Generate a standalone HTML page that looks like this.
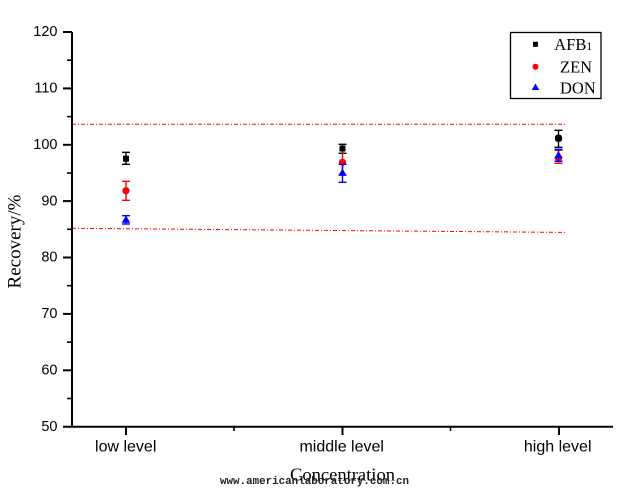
<!DOCTYPE html>
<html>
<head>
<meta charset="utf-8">
<style>
  html, body { margin: 0; padding: 0; background: #fff; }
  svg { display: block; }
</style>
</head>
<body>
<svg width="634" height="495" viewBox="0 0 634 495" xmlns="http://www.w3.org/2000/svg">
  <rect width="634" height="495" fill="#fff"/>

  <!-- reference dashed lines -->
  <line x1="72" y1="124.3" x2="565" y2="124.3" stroke="#f00" stroke-width="1" stroke-dasharray="4 2 1 2"/>
  <line x1="72" y1="228.3" x2="565" y2="232.4" stroke="#f00" stroke-width="1" stroke-dasharray="4 2 1 2"/>

  <!-- Y axis -->
  <line x1="72" y1="32" x2="72" y2="427.7" stroke="#000" stroke-width="2"/>
  <g stroke="#000" stroke-width="2">
    <line x1="63" y1="32" x2="72" y2="32"/>
    <line x1="63" y1="88.4" x2="72" y2="88.4"/>
    <line x1="63" y1="144.8" x2="72" y2="144.8"/>
    <line x1="63" y1="201.1" x2="72" y2="201.1"/>
    <line x1="63" y1="257.5" x2="72" y2="257.5"/>
    <line x1="63" y1="313.9" x2="72" y2="313.9"/>
    <line x1="63" y1="370.3" x2="72" y2="370.3"/>
  </g>
  <g stroke="#000" stroke-width="1.6">
    <line x1="67" y1="60.2" x2="72" y2="60.2"/>
    <line x1="67" y1="116.6" x2="72" y2="116.6"/>
    <line x1="67" y1="173" x2="72" y2="173"/>
    <line x1="67" y1="229.3" x2="72" y2="229.3"/>
    <line x1="67" y1="285.7" x2="72" y2="285.7"/>
    <line x1="67" y1="342.1" x2="72" y2="342.1"/>
    <line x1="67" y1="398.5" x2="72" y2="398.5"/>
  </g>
  <!-- X axis -->
  <line x1="63" y1="426.7" x2="613" y2="426.7" stroke="#000" stroke-width="2"/>
  <g stroke="#000" stroke-width="2">
    <line x1="126" y1="426.7" x2="126" y2="435"/>
    <line x1="342.5" y1="426.7" x2="342.5" y2="435"/>
    <line x1="559" y1="426.7" x2="559" y2="435"/>
  </g>
  <g stroke="#000" stroke-width="1.6">
    <line x1="234" y1="426.7" x2="234" y2="431"/>
    <line x1="450.5" y1="426.7" x2="450.5" y2="431"/>
  </g>

  <!-- Y tick labels -->
  <g font-family="'Liberation Sans', Arial, sans-serif" font-size="14.5" fill="#000" text-anchor="end">
    <text x="57.5" y="36">120</text>
    <text x="57.5" y="92.6">110</text>
    <text x="57.5" y="149">100</text>
    <text x="57.5" y="205.3">90</text>
    <text x="57.5" y="261.7">80</text>
    <text x="57.5" y="318.1">70</text>
    <text x="57.5" y="374.5">60</text>
    <text x="57.5" y="431">50</text>
  </g>

  <!-- X tick labels -->
  <g font-family="'Liberation Sans', Arial, sans-serif" font-size="16" fill="#000" text-anchor="middle">
    <text x="125.7" y="451.7">low level</text>
    <text x="341.7" y="451.7">middle level</text>
    <text x="557.7" y="451.7">high level</text>
  </g>

  <!-- Axis titles -->
  <text x="290" y="480.7" font-family="'Liberation Serif', 'Times New Roman', serif" font-size="18" fill="#000" textLength="105" lengthAdjust="spacingAndGlyphs">Concentration</text>
  <text transform="translate(20.5,241.5) rotate(-90)" text-anchor="middle" font-family="'Liberation Serif', 'Times New Roman', serif" font-size="19" fill="#000">Recovery/%</text>

  <!-- Watermark -->
  <text x="220" y="484" font-family="'Liberation Mono', monospace" font-size="11" font-weight="bold" fill="#222" textLength="189" lengthAdjust="spacingAndGlyphs">www.americanlaboratory.com.cn</text>

  <!-- AFB1 -->
  <g stroke="#000" stroke-width="1.4" fill="none">
    <line x1="126" y1="152.3" x2="126" y2="164.3"/>
    <line x1="122" y1="152.3" x2="130" y2="152.3"/>
    <line x1="122" y1="164.3" x2="130" y2="164.3"/>
    <line x1="342.5" y1="144.3" x2="342.5" y2="153.3"/>
    <line x1="338.5" y1="144.3" x2="346.5" y2="144.3"/>
    <line x1="338.5" y1="153.3" x2="346.5" y2="153.3"/>
    <line x1="558.5" y1="130.3" x2="558.5" y2="147.3"/>
    <line x1="554.5" y1="130.3" x2="562.5" y2="130.3"/>
    <line x1="554.5" y1="147.3" x2="562.5" y2="147.3"/>
  </g>
  <g fill="#000">
    <rect x="123" y="155.7" width="6" height="6"/>
    <rect x="339.5" y="145.5" width="6" height="6"/>
    <rect x="555" y="134.8" width="7" height="7" rx="2.5"/>
  </g>

  <!-- ZEN -->
  <g stroke="#f00" stroke-width="1.4" fill="none">
    <line x1="126" y1="181.3" x2="126" y2="200.3"/>
    <line x1="122" y1="181.3" x2="130" y2="181.3"/>
    <line x1="122" y1="200.3" x2="130" y2="200.3"/>
    <line x1="342.5" y1="152" x2="342.5" y2="175"/>
    <line x1="338.5" y1="175" x2="346.5" y2="175"/>
    <line x1="558.5" y1="150.3" x2="558.5" y2="163.3"/>
    <line x1="554.5" y1="150.3" x2="562.5" y2="150.3"/>
    <line x1="554.5" y1="163.3" x2="562.5" y2="163.3"/>
  </g>
  <g fill="#f00">
    <circle cx="126" cy="190.7" r="3.6"/>
    <circle cx="342.5" cy="162.3" r="3.6"/>
    <circle cx="558.5" cy="158.3" r="3.6"/>
  </g>

  <!-- DON -->
  <g stroke="#00f" stroke-width="1.4" fill="none">
    <line x1="126" y1="215.7" x2="126" y2="224"/>
    <line x1="122" y1="215.7" x2="130" y2="215.7"/>
    <line x1="122" y1="224" x2="130" y2="224"/>
    <line x1="342.5" y1="164.3" x2="342.5" y2="182.3"/>
    <line x1="338.5" y1="164.3" x2="346.5" y2="164.3"/>
    <line x1="338.5" y1="182.3" x2="346.5" y2="182.3"/>
    <line x1="558.5" y1="149.3" x2="558.5" y2="161.3"/>
    <line x1="554.5" y1="149.3" x2="562.5" y2="149.3"/>
    <line x1="554.5" y1="161.3" x2="562.5" y2="161.3"/>
  </g>
  <g fill="#00f">
    <polygon points="126,215.5 130.3,222.8 121.7,222.8"/>
    <polygon points="342.5,168.5 346.8,175.8 338.2,175.8"/>
    <polygon points="558.5,151 562.8,158.3 554.2,158.3"/>
  </g>

  <!-- Legend -->
  <rect x="510.5" y="32.5" width="90.5" height="66" fill="#fff" stroke="#000" stroke-width="1.3"/>
  <rect x="533" y="41.8" width="5" height="5" fill="#000"/>
  <circle cx="535.5" cy="66.7" r="3" fill="#f00"/>
  <polygon points="535.5,83.5 539.3,90 531.7,90" fill="#00f"/>
  <g font-family="'Liberation Serif', 'Times New Roman', serif" font-size="16.5" fill="#000">
    <text x="554.3" y="50">AFB<tspan font-size="11.5">1</tspan></text>
    <text x="560" y="72.3">ZEN</text>
    <text x="560" y="93.7">DON</text>
  </g>
</svg>
</body>
</html>
